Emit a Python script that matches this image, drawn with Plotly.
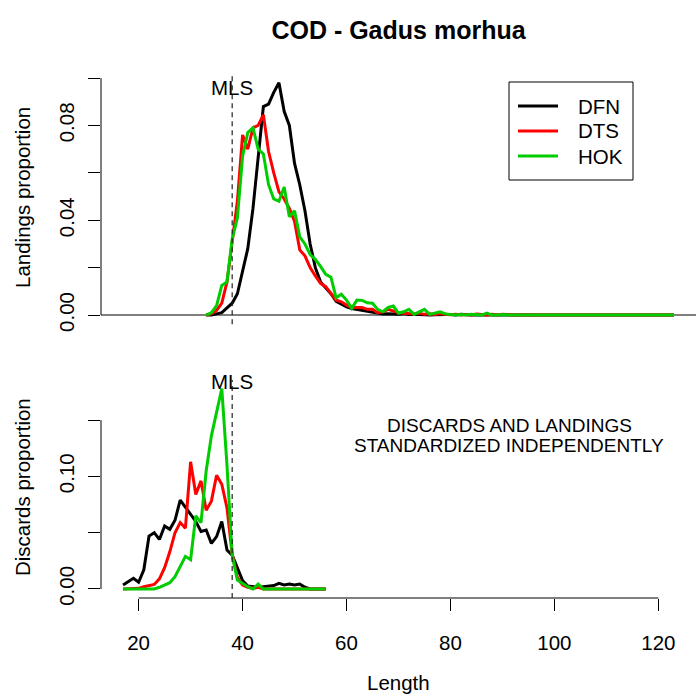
import plotly.graph_objects as go

# ---------------- data ----------------
length_land = list(range(33, 124))
dfn_land = [
    0.0, 0.0, 0.0005, 0.001, 0.003, 0.005, 0.009, 0.019, 0.028, 0.045,
    0.067, 0.088, 0.089, 0.094, 0.098, 0.086, 0.080, 0.064, 0.055, 0.044,
    0.030, 0.020, 0.014, 0.0115, 0.009, 0.0058, 0.0045, 0.0035, 0.0028, 0.0024,
    0.0018, 0.0014, 0.0012, 0.0008, 0.0004, 0.0006, 0.0004, 0.0003, 0.0006, 0.0002,
    0.0003, 0.0001, 0.0002, 0.0, 0.0001, 0.0, 0.0002, 0.0002, 0.0, 0.0003,
    0.0, 0.0, 0.0, 0.0001, 0.0, 0.0, 0.0, 0.0, 0.0, 0.0,
    0.0, 0.0, 0.0, 0.0, 0.0, 0.0, 0.0, 0.0, 0.0, 0.0,
    0.0, 0.0, 0.0, 0.0, 0.0, 0.0, 0.0, 0.0, 0.0, 0.0,
    0.0, 0.0, 0.0, 0.0, 0.0, 0.0, 0.0, 0.0, 0.0, 0.0,
    0.0,
]
dts_land = [
    0.0, 0.0005, 0.002, 0.005, 0.014, 0.032, 0.048, 0.076, 0.070, 0.079,
    0.080, 0.0845, 0.069, 0.060, 0.052, 0.049, 0.045, 0.0395, 0.0275, 0.025,
    0.020, 0.0165, 0.0134, 0.012, 0.009, 0.0063, 0.0056, 0.0042, 0.0032, 0.0032,
    0.0032, 0.0024, 0.0024, 0.001, 0.0014, 0.0024, 0.0018, 0.001, 0.0008, 0.0006,
    0.0004, 0.0008, 0.0003, 0.0005, 0.0002, 0.0006, 0.0002, 0.0001, 0.0003, 0.0,
    0.0002, 0.0, 0.0004, 0.0001, 0.0, 0.0003, 0.0, 0.0003, 0.0, 0.0,
    0.0001, 0.0, 0.0, 0.0, 0.0, 0.0, 0.0, 0.0, 0.0, 0.0,
    0.0, 0.0, 0.0, 0.0, 0.0, 0.0, 0.0, 0.0, 0.0, 0.0,
    0.0, 0.0, 0.0, 0.0, 0.0, 0.0, 0.0, 0.0, 0.0, 0.0,
    0.0,
]
hok_land = [
    0.0, 0.001, 0.004, 0.0125, 0.014, 0.032, 0.041, 0.067, 0.077, 0.079,
    0.070, 0.068, 0.055, 0.049, 0.048, 0.054, 0.0415, 0.044, 0.033, 0.030,
    0.0255, 0.0235, 0.0205, 0.0172, 0.016, 0.0073, 0.0088, 0.0063, 0.0028, 0.0063,
    0.0062, 0.0052, 0.005, 0.0024, 0.0014, 0.0032, 0.0038, 0.0008, 0.0014, 0.0024,
    0.0003, 0.0014, 0.0024, 0.0003, 0.0007, 0.0014, 0.0005, 0.0003, 0.0, 0.0002,
    0.0, 0.0003, 0.0, 0.0, 0.0008, 0.0, 0.0, 0.0002, 0.0, 0.0,
    0.0, 0.0, 0.0, 0.0, 0.0, 0.0, 0.0, 0.0, 0.0, 0.0,
    0.0, 0.0, 0.0, 0.0, 0.0, 0.0, 0.0, 0.0, 0.0, 0.0,
    0.0, 0.0, 0.0, 0.0, 0.0, 0.0, 0.0, 0.0, 0.0, 0.0,
    0.0,
]

length_disc = list(range(17, 57))
dfn_disc = [
    0.0036, 0.0065, 0.0095, 0.0060, 0.017, 0.047, 0.050, 0.044, 0.056, 0.053,
    0.061, 0.079, 0.073, 0.066, 0.060, 0.051, 0.0524, 0.0405, 0.0465, 0.060,
    0.0346, 0.030, 0.018, 0.0075, 0.0027, 0.0021, 0.0015, 0.0021, 0.0027, 0.003,
    0.005, 0.0036, 0.0044, 0.0036, 0.0044, 0.0015, 0.0, 0.0, 0.0, 0.0,
]
dts_disc = [
    0.0, 0.0, 0.0, 0.0006, 0.002, 0.003, 0.004, 0.009, 0.019, 0.033,
    0.050, 0.059, 0.054, 0.113, 0.084, 0.096, 0.070, 0.078, 0.101, 0.093,
    0.072, 0.031, 0.010, 0.0036, 0.0015, 0.0006, 0.0015, 0.0, 0.0, 0.0,
    0.0, 0.0, 0.0, 0.0, 0.0, 0.0, 0.0, 0.0, 0.0, 0.0,
]
hok_disc = [
    0.0, 0.0, 0.0, 0.0, 0.0, 0.0006, 0.0, 0.0015, 0.0036, 0.0056,
    0.011, 0.020, 0.029, 0.026, 0.065, 0.059, 0.105, 0.136, 0.158, 0.178,
    0.11, 0.03, 0.008, 0.005, 0.002, 0.0, 0.0044, 0.0, 0.0, 0.0,
    0.0, 0.0, 0.0, 0.0, 0.0, 0.0, 0.0, 0.0, 0.0, 0.0,
]

fleets = ["DFN", "DTS", "HOK"]
colors = ["#000000", "#FF0000", "#00CD00"]
mls = 38
x_ticks = [20, 40, 60, 80, 100, 120]
land_ticks = [0.0, 0.02, 0.04, 0.06, 0.08, 0.10]
land_labels = ["0.00", "", "0.04", "", "0.08", ""]
disc_ticks = [0.0, 0.05, 0.10, 0.15]
disc_labels = ["0.00", "", "0.10", ""]

# ---------------- layout helpers ----------------
W = H = 696
ML = 101
PW = W - ML


def pxx(p):
    return (p - ML) / PW


def pxy(p):
    return 1 - p / H


FONT = "Liberation Sans, Arial, Helvetica, sans-serif"
FS = 20.5

fig = go.Figure()

land_series = [dfn_land, dts_land, hok_land]
disc_series = [dfn_disc, dts_disc, hok_disc]
for name, col, ys in zip(fleets, colors, land_series):
    fig.add_trace(go.Scatter(x=length_land, y=ys, mode="lines", name=name,
                             line=dict(color=col, width=3), showlegend=False,
                             xaxis="x", yaxis="y"))
for name, col, ys in zip(fleets, colors, disc_series):
    fig.add_trace(go.Scatter(x=length_disc, y=ys, mode="lines", name=name,
                             line=dict(color=col, width=3), showlegend=False,
                             xaxis="x2", yaxis="y2"))

xr = [12.76, 127.24]
top_dom = [pxy(324.3), pxy(72.4)]
bot_dom = [pxy(598), pxy(380)]

fig.update_layout(
    width=W, height=H,
    margin=dict(l=ML, r=0, t=0, b=0, autoexpand=False),
    paper_bgcolor="white", plot_bgcolor="white",
    font=dict(family=FONT, size=FS, color="black"),
    title=dict(text="<b>COD - Gadus morhua</b>", x=0.5, xref="paper",
               y=pxy(30), yref="container", xanchor="center", yanchor="middle",
               font=dict(size=25, family=FONT, color="black")),
    xaxis=dict(domain=[0, 1], range=xr, anchor="y", visible=False,
               showgrid=False, zeroline=False),
    yaxis=dict(domain=top_dom, range=[-0.0039, 0.1024], anchor="x",
               tickmode="array", tickvals=land_ticks, ticktext=land_labels,
               ticks="outside", ticklen=12, tickwidth=1, tickcolor="black",
               tickangle=-90, ticklabelstandoff=6, showline=False,
               showgrid=False, zeroline=False, automargin=False,
               tickfont=dict(size=FS)),
    xaxis2=dict(domain=[0, 1], range=xr, anchor="y2",
                tickmode="array", tickvals=x_ticks,
                ticks="outside", ticklen=12, tickwidth=1, tickcolor="black",
                ticklabelstandoff=14, showline=False, showgrid=False,
                zeroline=False, automargin=False, tickfont=dict(size=FS)),
    yaxis2=dict(domain=bot_dom, range=[-0.0080, 0.1856], anchor="x2",
                tickmode="array", tickvals=disc_ticks, ticktext=disc_labels,
                ticks="outside", ticklen=12, tickwidth=1, tickcolor="black",
                tickangle=-90, ticklabelstandoff=6, showline=False,
                showgrid=False, zeroline=False, automargin=False,
                tickfont=dict(size=FS)),
)

shapes = []
# R-style axis lines spanning only the tick range
shapes.append(dict(type="line", xref="paper", yref="y", x0=0, x1=0,
                   y0=land_ticks[0], y1=land_ticks[-1],
                   line=dict(color="black", width=1)))
shapes.append(dict(type="line", xref="paper", yref="y2", x0=0, x1=0,
                   y0=disc_ticks[0], y1=disc_ticks[-1],
                   line=dict(color="black", width=1)))
shapes.append(dict(type="line", xref="x2", yref="paper", x0=x_ticks[0],
                   x1=x_ticks[-1], y0=bot_dom[0], y1=bot_dom[0],
                   line=dict(color="black", width=1)))
# zero reference line in landings panel
shapes.append(dict(type="line", xref="paper", yref="y", x0=0, x1=1, y0=0, y1=0,
                   line=dict(color="#555555", width=1.5), layer="below"))
# MLS dashed lines
for yr in ["y domain", "y2 domain"]:
    xref = "x" if yr.startswith("y ") else "x2"
    shapes.append(dict(type="line", xref=xref, yref=yr, x0=mls, x1=mls,
                       y0=0, y1=1,
                       line=dict(color="#222222", width=1.2, dash="5px,4px")))

# legend (R style box)
lg_left, lg_right, lg_top, lg_bot = 509, 633, 82, 180
shapes.append(dict(type="rect", xref="paper", yref="paper",
                   x0=pxx(lg_left), x1=pxx(lg_right),
                   y0=pxy(lg_bot), y1=pxy(lg_top),
                   line=dict(color="black", width=1), fillcolor="white",
                   layer="above"))
annotations = []
row_y = [106, 131, 156]
for name, col, ry in zip(fleets, colors, row_y):
    shapes.append(dict(type="line", xref="paper", yref="paper",
                       x0=pxx(518), x1=pxx(558), y0=pxy(ry), y1=pxy(ry),
                       line=dict(color=col, width=3), layer="above"))
    annotations.append(dict(text=name, xref="paper", yref="paper",
                            x=pxx(576), y=pxy(ry), xanchor="left",
                            yanchor="middle", showarrow=False,
                            font=dict(size=FS, color="black")))

# MLS labels
annotations.append(dict(text="MLS", xref="x", yref="y", x=mls, y=0.0962,
                        showarrow=False, xanchor="center", yanchor="middle",
                        font=dict(size=FS)))
annotations.append(dict(text="MLS", xref="x2", yref="y2", x=mls, y=0.1847,
                        showarrow=False, xanchor="center", yanchor="middle",
                        font=dict(size=FS)))
# panel note
annotations.append(dict(text="DISCARDS AND LANDINGS", xref="x2", yref="y2",
                        x=91.3, y=0.1456, showarrow=False, xanchor="center",
                        yanchor="middle", font=dict(size=19)))
annotations.append(dict(text="STANDARDIZED INDEPENDENTLY", xref="x2", yref="y2",
                        x=91.3, y=0.127, showarrow=False, xanchor="center",
                        yanchor="middle", font=dict(size=19)))
# axis titles
annotations.append(dict(text="Landings proportion", xref="paper", yref="paper",
                        x=pxx(22), y=pxy(198), textangle=-90, showarrow=False,
                        xanchor="center", yanchor="middle", font=dict(size=FS)))
annotations.append(dict(text="Discards proportion", xref="paper", yref="paper",
                        x=pxx(22), y=pxy(487), textangle=-90, showarrow=False,
                        xanchor="center", yanchor="middle", font=dict(size=FS)))
annotations.append(dict(text="Length", xref="paper", yref="paper",
                        x=pxx(398.5), y=pxy(682), showarrow=False,
                        xanchor="center", yanchor="middle", font=dict(size=FS)))

fig.update_layout(shapes=shapes, annotations=annotations)
fig.write_html("out.html")
